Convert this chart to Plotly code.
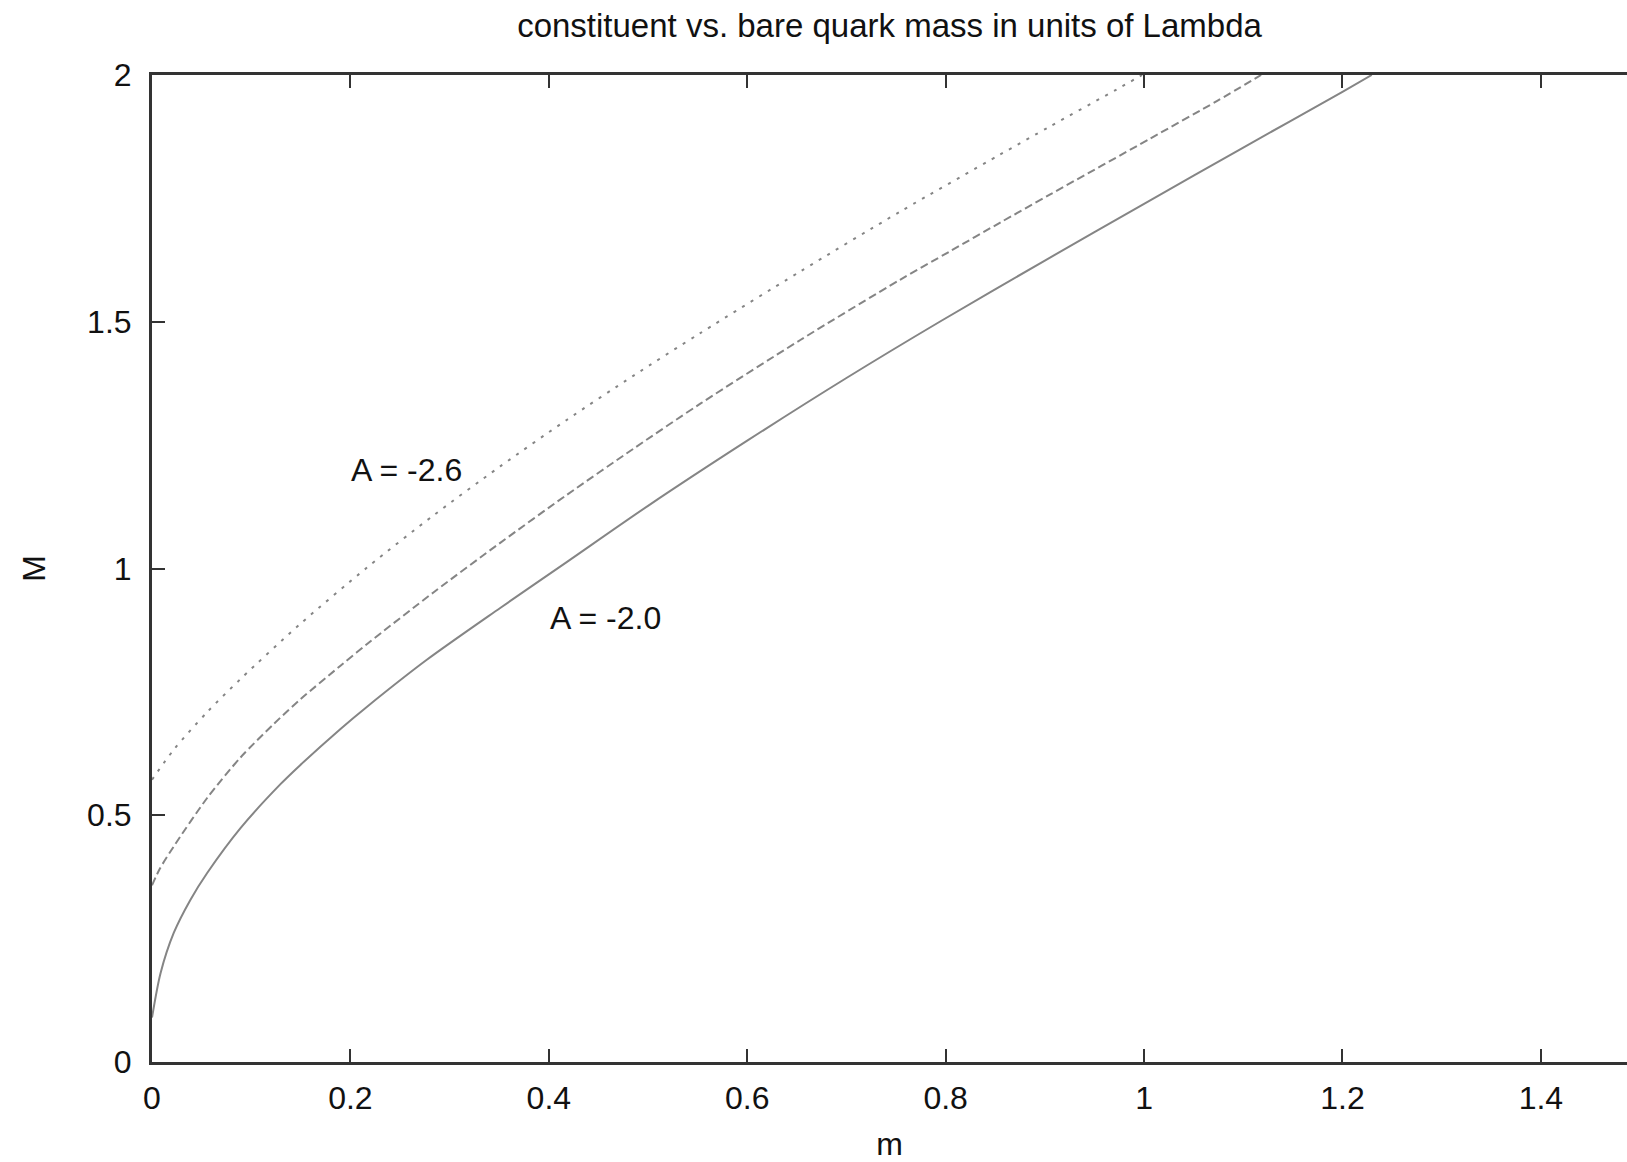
import plotly.graph_objects as go

# ---- data ----
m_a20 = [0.0, 0.0086, 0.022, 0.0388, 0.0556, 0.0892, 0.1295, 0.1496, 0.19, 0.2168,
         0.277, 0.351, 0.418, 0.5, 0.6, 0.7, 0.794, 0.9, 1.0, 1.1, 1.2, 1.2295]
M_a20 = [0.09, 0.18, 0.262, 0.329, 0.383, 0.474, 0.563, 0.602, 0.675, 0.72,
         0.815, 0.92, 1.013, 1.127, 1.259, 1.386, 1.5, 1.624, 1.739, 1.853, 1.966, 2.0]

m_a23 = [0.0, 0.008, 0.022, 0.0556, 0.0892, 0.1227, 0.1496, 0.19, 0.2168, 0.284,
         0.351, 0.418, 0.4855, 0.5527, 0.6535, 0.754, 0.8046, 0.855, 0.9054, 1.006,
         1.0733, 1.118]
M_a23 = [0.358, 0.392, 0.437, 0.535, 0.617, 0.685, 0.735, 0.803, 0.847, 0.952,
         1.052, 1.149, 1.243, 1.334, 1.463, 1.585, 1.643, 1.701, 1.758, 1.871,
         1.947, 2.0]

m_a26 = [0.0, 0.022, 0.0556, 0.0892, 0.1496, 0.2168, 0.284, 0.351, 0.418, 0.4855,
         0.5527, 0.6535, 0.754, 0.855, 0.9054, 0.9726, 0.998]
M_a26 = [0.572, 0.633, 0.709, 0.776, 0.888, 1.002, 1.108, 1.207, 1.301, 1.391,
         1.477, 1.602, 1.723, 1.839, 1.896, 1.971, 2.0]

x_ticks = [0, 0.2, 0.4, 0.6, 0.8, 1.0, 1.2, 1.4]
x_tick_text = ["0", "0.2", "0.4", "0.6", "0.8", "1", "1.2", "1.4"]
y_ticks = [0, 0.5, 1.0, 1.5, 2.0]
y_tick_text = ["0", "0.5", "1", "1.5", "2"]

labels = [("A = -2.6", 0.2, 1.2), ("A = -2.0", 0.4, 0.9)]

title_text = "constituent vs. bare quark mass in units of Lambda"

FONT = "Liberation Sans, Arial, Helvetica, sans-serif"
TXT = "#111111"
AX = "#333333"
CURVE = "#858585"

fig = go.Figure()
fig.add_trace(go.Scatter(x=m_a26, y=M_a26, mode="lines", name="A = -2.6",
                         line=dict(color=CURVE, width=2, dash="3px,7px",
                                   shape="spline", smoothing=0.8),
                         showlegend=False))
fig.add_trace(go.Scatter(x=m_a23, y=M_a23, mode="lines", name="A = -2.3",
                         line=dict(color=CURVE, width=2, dash="8px,4px",
                                   shape="spline", smoothing=0.8),
                         showlegend=False))
fig.add_trace(go.Scatter(x=m_a20, y=M_a20, mode="lines", name="A = -2.0",
                         line=dict(color=CURVE, width=2,
                                   shape="spline", smoothing=0.8),
                         showlegend=False))

for txt, lx, ly in labels:
    fig.add_annotation(x=lx, y=ly, xref="x", yref="y", text=txt, showarrow=False,
                       xanchor="left", yanchor="middle", borderpad=0,
                       font=dict(family=FONT, size=32, color=TXT))

fig.update_layout(
    width=1627, height=1162,
    margin=dict(l=152, r=0, t=75, b=100, autoexpand=False),
    paper_bgcolor="white", plot_bgcolor="white",
    font=dict(family=FONT, size=32, color=TXT),
    title=dict(text=title_text, x=0.5, xref="paper", xanchor="center",
               y=1 - 25 / 1162, yref="container", yanchor="middle",
               font=dict(family=FONT, size=33, color=TXT)),
    showlegend=False,
)

fig.update_xaxes(
    range=[0, 1.4868], tickvals=x_ticks, ticktext=x_tick_text,
    ticks="inside", ticklen=13, tickwidth=2, tickcolor=AX,
    showline=True, linecolor=AX, linewidth=3, mirror="ticks",
    showgrid=False, zeroline=False, ticklabelstandoff=6,
    tickfont=dict(family=FONT, size=32, color=TXT),
    title=dict(text="m", standoff=24, font=dict(family=FONT, size=32, color=TXT)),
    automargin=False,
)
fig.update_yaxes(
    range=[0, 2], tickvals=y_ticks, ticktext=y_tick_text,
    ticks="inside", ticklen=13, tickwidth=2, tickcolor=AX,
    showline=True, linecolor=AX, linewidth=3, mirror=False,
    showgrid=False, zeroline=False, ticklabelstandoff=11,
    tickfont=dict(family=FONT, size=32, color=TXT),
    title=dict(text="M", standoff=32, font=dict(family=FONT, size=32, color=TXT)),
    automargin=False,
)

fig.write_html("out.html")
